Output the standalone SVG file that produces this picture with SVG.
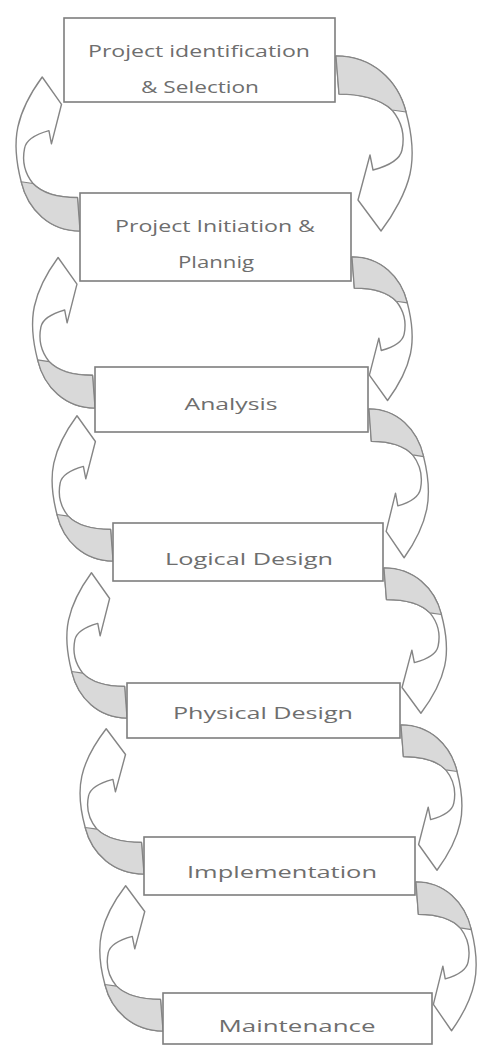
<svg xmlns="http://www.w3.org/2000/svg" xmlns:xlink="http://www.w3.org/1999/xlink" width="478" height="1046" viewBox="0 0 478 1046">
<style>
.box{fill:#ffffff;stroke:#7e7e7e;stroke-width:1.6}
.lbl{font-family:"Open Sans","Liberation Sans",sans-serif;font-size:17px;fill:#6e6e6e;text-anchor:middle}
.band{fill:#ffffff;stroke:#858585;stroke-width:1.4;stroke-linejoin:round}
.face{fill:#d9d9d9;stroke:#858585;stroke-width:1.2;stroke-linejoin:round}
</style>
<defs>
<g id="curvedArrow">
<path class="band" vector-effect="non-scaling-stroke" d="M 0,0 C 36,0 62,24 70,56 C 76,78 78,100 74,118 C 70,136 58,158 45,175 L 22,144 L 34,99 L 37,114 C 52,110 64,104 66,94 C 69,80 66,66 56,54 C 44,42 22,38 3,38 Z"/>
<path class="face" vector-effect="non-scaling-stroke" d="M 0,0 C 36,0 62,24 70,56 L 56,54 C 44,42 22,38 3,38 Z"/>
</g>
</defs>
<rect width="478" height="1046" fill="#ffffff"/>
<g id="connectors">
<use id="r1" xlink:href="#curvedArrow" href="#curvedArrow" transform="translate(336,56) scale(1,1)"/>
<use id="r2" xlink:href="#curvedArrow" href="#curvedArrow" transform="translate(352,257) scale(0.79,0.82)"/>
<use id="r3" xlink:href="#curvedArrow" href="#curvedArrow" transform="translate(369,409) scale(0.78,0.85)"/>
<use id="r4" xlink:href="#curvedArrow" href="#curvedArrow" transform="translate(384,568) scale(0.82,0.83)"/>
<use id="r5" xlink:href="#curvedArrow" href="#curvedArrow" transform="translate(401,725) scale(0.8,0.83)"/>
<use id="r6" xlink:href="#curvedArrow" href="#curvedArrow" transform="translate(416,882) scale(0.79,0.85)"/>
<use id="l1" xlink:href="#curvedArrow" href="#curvedArrow" transform="translate(80,231) rotate(180) scale(0.84,0.88)"/>
<use id="l2" xlink:href="#curvedArrow" href="#curvedArrow" transform="translate(95,408) rotate(180) scale(0.82,0.86)"/>
<use id="l3" xlink:href="#curvedArrow" href="#curvedArrow" transform="translate(113,561) rotate(180) scale(0.8,0.83)"/>
<use id="l4" xlink:href="#curvedArrow" href="#curvedArrow" transform="translate(127,718) rotate(180) scale(0.79,0.83)"/>
<use id="l5" xlink:href="#curvedArrow" href="#curvedArrow" transform="translate(144,874) rotate(180) scale(0.84,0.83)"/>
<use id="l6" xlink:href="#curvedArrow" href="#curvedArrow" transform="translate(163,1031) rotate(180) scale(0.83,0.83)"/>
</g>
<g id="node1"><rect class="box" x="64" y="18" width="271" height="84"/>
<text class="lbl" x="199" y="57" textLength="222" lengthAdjust="spacingAndGlyphs">Project identification</text>
<text class="lbl" x="200" y="93" textLength="118" lengthAdjust="spacingAndGlyphs">&amp; Selection</text></g>
<g id="node2"><rect class="box" x="80" y="193" width="271" height="88"/>
<text class="lbl" x="215" y="232" textLength="200" lengthAdjust="spacingAndGlyphs">Project Initiation &amp;</text>
<text class="lbl" x="216" y="268" textLength="76" lengthAdjust="spacingAndGlyphs">Plannig</text></g>
<g id="node3"><rect class="box" x="95" y="367" width="273" height="65"/>
<text class="lbl" x="231" y="410" textLength="93" lengthAdjust="spacingAndGlyphs">Analysis</text></g>
<g id="node4"><rect class="box" x="113" y="523" width="270" height="58"/>
<text class="lbl" x="249" y="565" textLength="168" lengthAdjust="spacingAndGlyphs">Logical Design</text></g>
<g id="node5"><rect class="box" x="127" y="683" width="273" height="55"/>
<text class="lbl" x="263" y="719" textLength="180" lengthAdjust="spacingAndGlyphs">Physical Design</text></g>
<g id="node6"><rect class="box" x="144" y="837" width="271" height="58"/>
<text class="lbl" x="282" y="878" textLength="190" lengthAdjust="spacingAndGlyphs">Implementation</text></g>
<g id="node7"><rect class="box" x="163" y="993" width="269" height="51"/>
<text class="lbl" x="297" y="1032" textLength="157" lengthAdjust="spacingAndGlyphs">Maintenance</text></g>
</svg>
